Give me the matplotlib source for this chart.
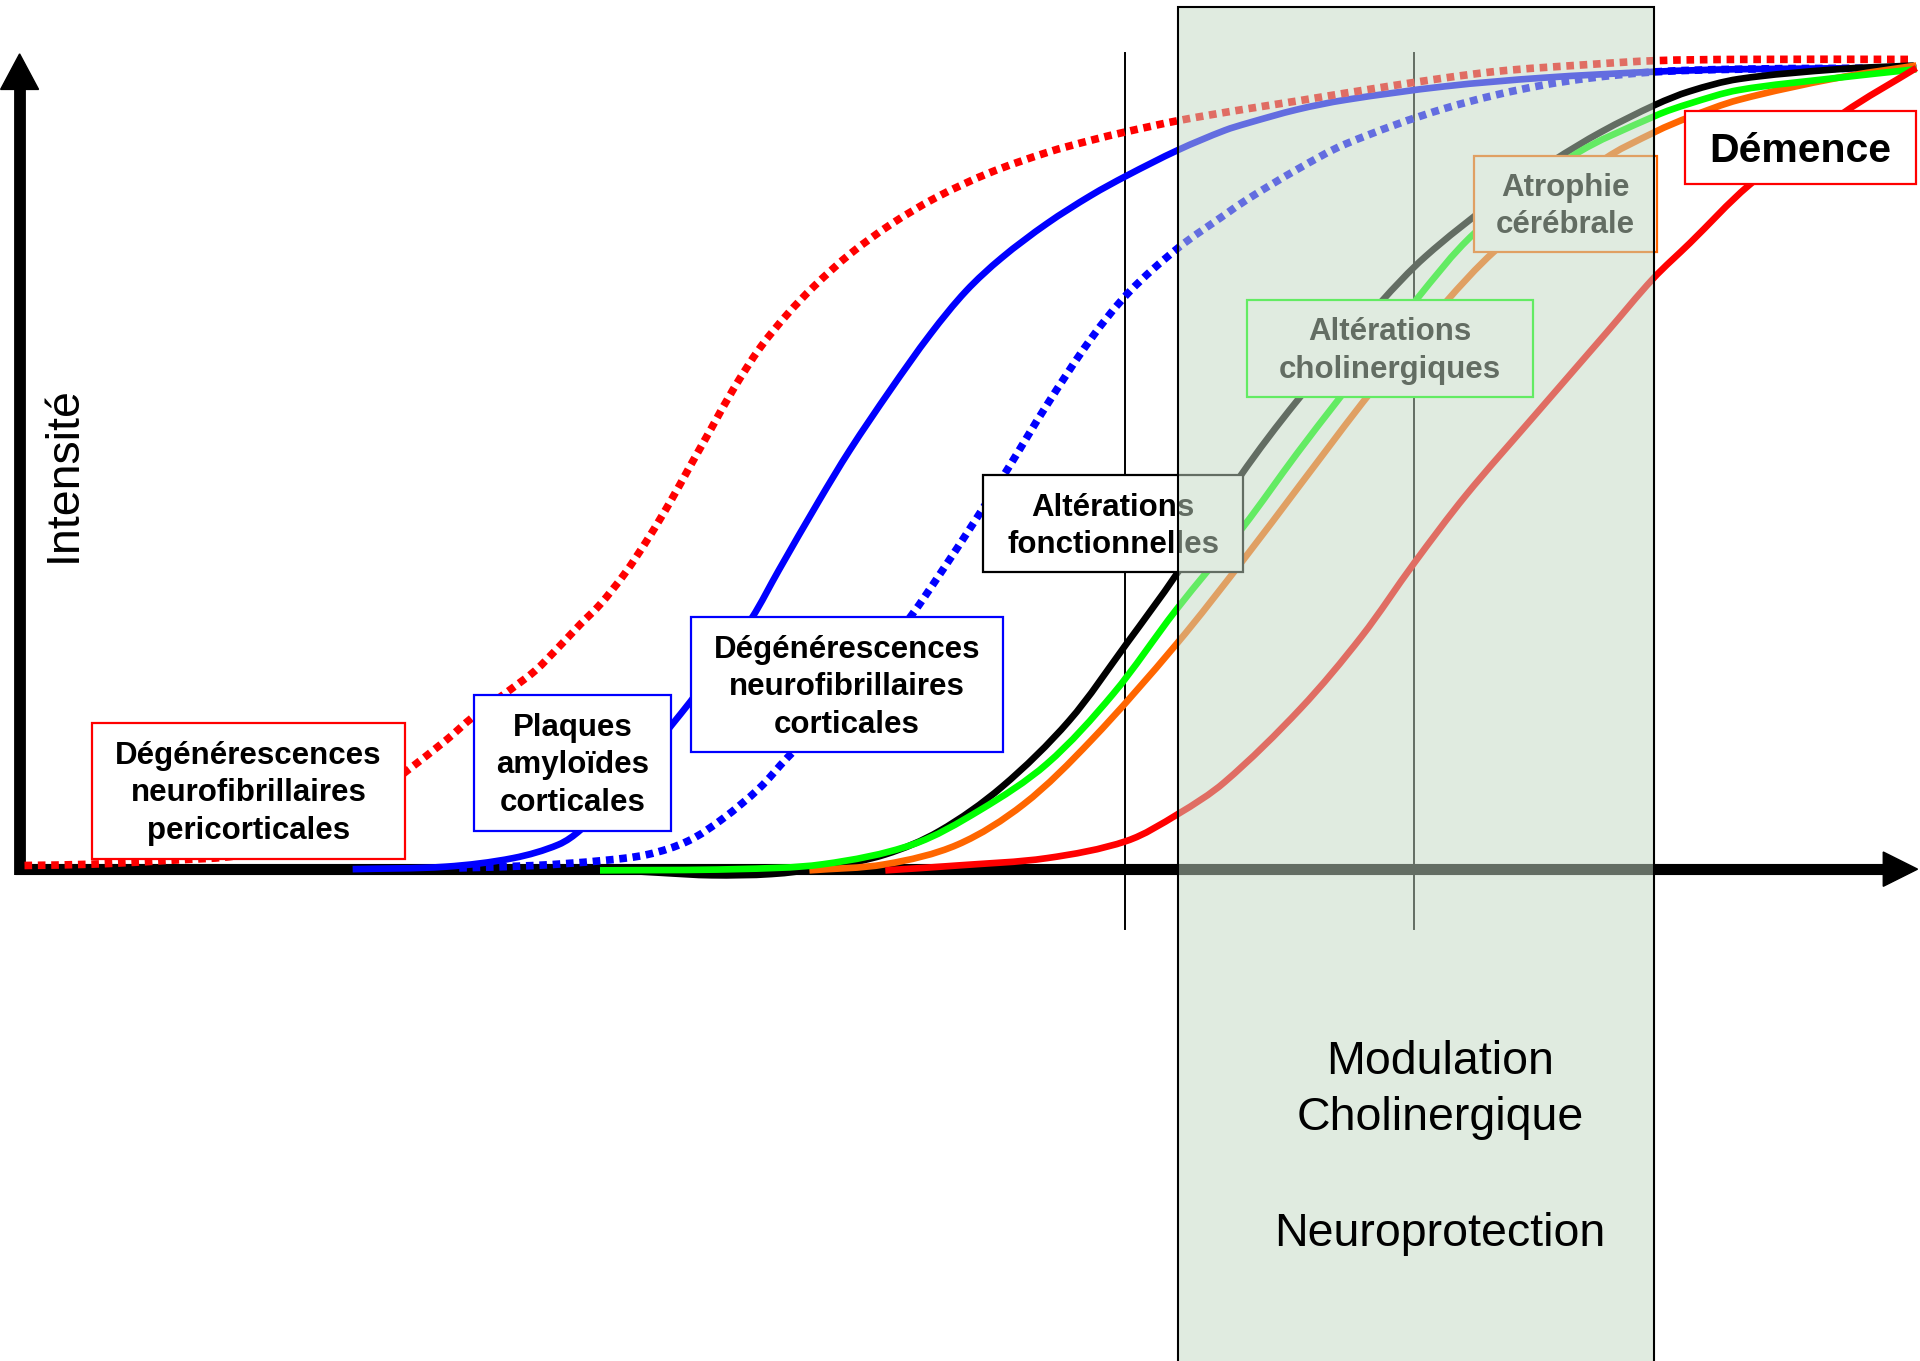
import numpy as np
import matplotlib
matplotlib.use('Agg')
import matplotlib.pyplot as plt
from matplotlib.patches import Rectangle, Polygon, PathPatch
from matplotlib.path import Path

plt.rcParams['font.family'] = ['Liberation Sans', 'DejaVu Sans']

# ── Chart grid: 1568 x 1111 units, x axis at intensity 0 ───────────────────
W, H = 1568, 1111
BASE = 709.5                      # rows from top edge down to the x axis


def row(y):
    """Row measured from the top edge -> intensity units."""
    return BASE - y


# ── Curves: time position / intensity ─────────────────────────────────────
nft_peri_x = [20, 73, 135, 200, 260, 300, 332, 364, 386, 416, 437, 456, 474, 490,
              510, 530, 548, 563, 581, 599, 621, 643, 665, 694, 727, 764, 807, 855,
              891, 920, 962, 1008, 1059, 1140, 1220, 1300, 1352, 1420, 1561]
nft_peri_y = [3, 4, 7, 12, 30, 55, 80, 105, 124, 146, 162, 181, 200, 216,
              241, 271, 301, 328, 360, 392, 426, 453, 476, 502, 526, 548, 568, 585,
              595, 602, 611, 619, 627, 640, 651, 657, 660, 661, 661]

plaques_x = [288, 364, 419, 456, 474, 500, 530, 548, 564, 590, 614, 636, 669, 694,
             727, 760, 789, 818, 855, 891, 920, 962, 1000, 1019, 1059, 1099, 1180,
             1260, 1352, 1420, 1565]
plaques_y = [0, 2, 9, 20, 32, 59, 94, 117, 137, 172, 205, 244, 301, 342,
             391, 437, 472, 499, 527, 550, 566, 587, 603, 609, 620, 628, 639,
             646, 651, 653, 654]

nft_cort_x = [375, 437, 492, 529, 562, 590, 620, 643, 700, 745, 767, 796, 815, 825,
              855, 891, 922, 962, 1000, 1019, 1059, 1099, 1180, 1260, 1340, 1420, 1565]
nft_cort_y = [1, 3, 7, 12, 23, 41, 66, 91, 149, 208, 240, 284, 314, 330,
              379, 433, 471, 507, 534, 547, 571, 592, 621, 640, 650, 653, 654]

fonct_x = [490, 540, 581, 630, 672, 723, 767, 818, 873, 920, 961, 1013, 1059, 1127,
           1164, 1220, 1268, 1308, 1352, 1380, 1420, 1501, 1563]
fonct_y = [0, -3, -5, -4, 1, 12, 31, 67, 121, 184, 241, 321, 382, 462,
           500, 545, 578, 602, 624, 635, 645, 653, 656]

cholin_x = [490, 600, 672, 745, 800, 855, 909, 960, 1015, 1059, 1092, 1156, 1204,
            1284, 1352, 1380, 1420, 1501, 1565]
cholin_y = [-1, 0, 4, 20, 48, 86, 143, 211, 279, 339, 382, 464, 519,
            582, 615, 625, 636, 646, 653]

atrophie_x = [661, 723, 782, 836, 891, 961, 1015, 1062, 1120, 1180, 1220, 1308,
              1352, 1380, 1420, 1501, 1565]
atrophie_y = [-1, 4, 20, 53, 105, 184, 252, 314, 390, 462, 504, 578,
              602, 614, 628, 646, 656]

demence_x = [723, 782, 855, 920, 962, 1000, 1062, 1112, 1155, 1197, 1253, 1312,
             1350, 1380, 1428, 1505, 1565]
demence_y = [-1, 3, 9, 23, 45, 71, 131, 190, 250, 305, 370, 438,
             482, 511, 558, 617, 654]

# label boxes: x0, x1, top row, bottom row
box_lines = [
    ['Dégénérescences', 'neurofibrillaires', 'pericorticales'],
    ['Plaques', 'amyloïdes', 'corticales'],
    ['Dégénérescences', 'neurofibrillaires', 'corticales'],
    ['Altérations', 'fonctionnelles'],
    ['Altérations', 'cholinergiques'],
    ['Atrophie', 'cérébrale'],
    ['Démence'],
]
box_extent = [(75, 331, 590, 701), (387, 548, 567, 678), (564, 819, 504, 614),
              (803, 1015, 388, 467), (1018, 1252, 245, 324), (1204, 1353, 127, 206),
              (1376, 1565, 91, 150)]
box_edge = ['#ff0000', '#0000ff', '#0000ff', '#000000', '#00ff00', '#ff6600', '#ff0000']
box_size = [22.5, 22.5, 22.5, 22.5, 22.5, 22.5, 29.5]

phase_lines = ['Modulation', 'Cholinergique', '', 'Neuroprotection']
time_marks = [919, 1155]


def smooth_path(xs, ys):
    """Bezier path through the read points (like the drawing tool's curved line)."""
    p = np.column_stack([xs, ys]).astype(float)
    n = len(p)
    d = np.hypot(*np.diff(p, axis=0).T)
    tang = np.zeros_like(p)
    tang[0] = (p[1] - p[0]) / d[0]
    tang[-1] = (p[-1] - p[-2]) / d[-1]
    for i in range(1, n - 1):
        tang[i] = (p[i + 1] - p[i - 1]) / (d[i - 1] + d[i])
    verts = [p[0]]
    codes = [Path.MOVETO]
    for i in range(n - 1):
        verts += [p[i] + tang[i] * d[i] / 3, p[i + 1] - tang[i + 1] * d[i] / 3, p[i + 1]]
        codes += [Path.CURVE4] * 3
    return Path(verts, codes)


def curve(ax, xs, ys, color, z, dotted=False):
    if dotted:
        style = dict(lw=5.5, linestyle=(0, (1, 0.75)), capstyle='butt')
    else:
        style = dict(lw=4.8, capstyle='butt', joinstyle='round')
    ax.add_patch(PathPatch(smooth_path(xs, ys), fill=False, edgecolor=color,
                           zorder=z, **style))


# ── Figure ────────────────────────────────────────────────────────────────
fig = plt.figure(figsize=(19.2, 13.61), dpi=100)
ax = fig.add_axes([0, 0, 1, 1])
ax.set_xlim(0, W)
ax.set_ylim(BASE - H, BASE)
ax.axis('off')

# axes with arrow heads
AX_X = 16
ax.plot([AX_X, AX_X], [-5, row(72)], color='black', lw=8.5, solid_capstyle='butt', zorder=1)
ax.add_patch(Polygon([(AX_X - 15.5, row(73)), (AX_X + 15.5, row(73)), (AX_X, row(44))],
                     closed=True, color='black', zorder=1))
ax.plot([AX_X - 4, 1540], [0, 0], color='black', lw=8, solid_capstyle='butt', zorder=1)
ax.add_patch(Polygon([(1538, 14), (1538, -14), (1566, 0)],
                     closed=True, color='black', zorder=1))

for xm in time_marks:
    ax.plot([xm, xm], [row(758), row(43)], color='black', lw=1.4, zorder=1.5)

# curves
curve(ax, plaques_x, plaques_y, '#0000ff', 2)
curve(ax, nft_cort_x, nft_cort_y, '#0000ff', 2.1, dotted=True)
curve(ax, nft_peri_x, nft_peri_y, '#ff0000', 2.2, dotted=True)
curve(ax, fonct_x, fonct_y, 'black', 2.3)
curve(ax, atrophie_x, atrophie_y, '#ff6600', 2.4)
curve(ax, cholin_x, cholin_y, '#00ff00', 2.5)
curve(ax, demence_x, demence_y, '#ff0000', 2.6)

# label boxes
LINE_STEP = 30.5
for lines, (x0, x1, top, bot), ec, fs in zip(box_lines, box_extent, box_edge, box_size):
    ax.add_patch(Rectangle((x0, row(bot)), x1 - x0, bot - top, facecolor='white',
                           edgecolor=ec, lw=1.6, zorder=5))
    cx = (x0 + x1) / 2
    cy = (top + bot) / 2
    n = len(lines)
    for i, txt in enumerate(lines):
        if n == 1:
            base_row = cy + 11.5
        else:
            base_row = cy + 8.7 + (i - (n - 1) / 2) * LINE_STEP
        ax.text(cx, row(base_row), txt, ha='center', va='baseline', fontsize=fs,
                fontweight='bold', color='black', zorder=6)

# y axis title
ax.text(61.5, row(387), 'Intensité', rotation=90, rotation_mode='anchor',
        ha='center', va='baseline', fontsize=33.5, color='black', zorder=6)

# treatment window, drawn semi-transparent over everything
ax.add_patch(Rectangle((962, row(1125)), 1351 - 962, 1125 - 6,
                       facecolor=(196 / 255, 216 / 255, 196 / 255, 0.51),
                       edgecolor='black', lw=1.5, zorder=10))
phase_rows = [876.6, 922.8, 969.8, 1016.8]
for txt, r in zip(phase_lines, phase_rows):
    if txt:
        ax.text(1176, row(r), txt, ha='center', va='baseline', fontsize=33.5,
                color='black', zorder=11)

fig.savefig('out.png', dpi=100)
